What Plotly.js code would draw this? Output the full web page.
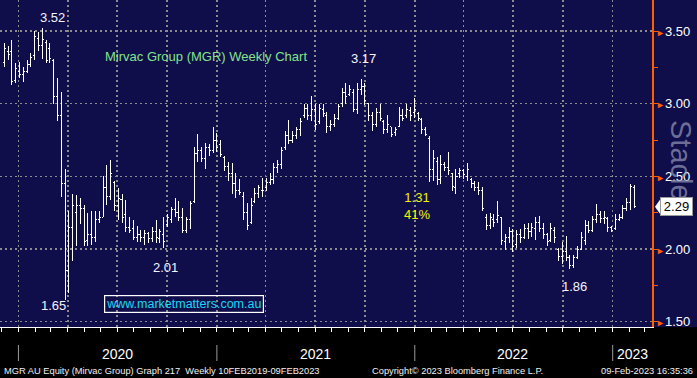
<!DOCTYPE html>
<html><head><meta charset="utf-8">
<script src="https://cdn.plot.ly/plotly-3.0.1.min.js"></script>
<style>html,body{margin:0;padding:0;background:#100e4a;}#chart{width:697px;height:378px;}
.trace.ohlc path{shape-rendering:crispEdges;}</style>
</head><body><div id="chart"></div>
<script>
// Weekly bars (week ending Friday)
const dates = [
'2019-12-06','2019-12-13','2019-12-20','2019-12-27',
'2020-01-03','2020-01-10','2020-01-17','2020-01-24','2020-01-31','2020-02-07','2020-02-14','2020-02-21','2020-02-28',
'2020-03-06','2020-03-13','2020-03-20','2020-03-27','2020-04-03','2020-04-10','2020-04-17','2020-04-24',
'2020-05-01','2020-05-08','2020-05-15','2020-05-22','2020-05-29','2020-06-05','2020-06-12','2020-06-19','2020-06-26',
'2020-07-03','2020-07-10','2020-07-17','2020-07-24','2020-07-31','2020-08-07','2020-08-14','2020-08-21','2020-08-28',
'2020-09-04','2020-09-11','2020-09-18','2020-09-25','2020-10-02','2020-10-09','2020-10-16','2020-10-23','2020-10-30',
'2020-11-06','2020-11-13','2020-11-20','2020-11-27','2020-12-04','2020-12-11','2020-12-18','2020-12-25',
'2021-01-01','2021-01-08','2021-01-15','2021-01-22','2021-01-29','2021-02-05','2021-02-12','2021-02-19','2021-02-26',
'2021-03-05','2021-03-12','2021-03-19','2021-03-26','2021-04-02','2021-04-09','2021-04-16','2021-04-23','2021-04-30',
'2021-05-07','2021-05-14','2021-05-21','2021-05-28','2021-06-04','2021-06-11','2021-06-18','2021-06-25',
'2021-07-02','2021-07-09','2021-07-16','2021-07-23','2021-07-30','2021-08-06','2021-08-13','2021-08-20','2021-08-27',
'2021-09-03','2021-09-10','2021-09-17','2021-09-24','2021-10-01','2021-10-08','2021-10-15','2021-10-22','2021-10-29',
'2021-11-05','2021-11-12','2021-11-19','2021-11-26','2021-12-03','2021-12-10','2021-12-17','2021-12-24','2021-12-31',
'2022-01-07','2022-01-14','2022-01-21','2022-01-28','2022-02-04','2022-02-11','2022-02-18','2022-02-25',
'2022-03-04','2022-03-11','2022-03-18','2022-03-25','2022-04-01','2022-04-08','2022-04-15','2022-04-22','2022-04-29',
'2022-05-06','2022-05-13','2022-05-20','2022-05-27','2022-06-03','2022-06-10','2022-06-17','2022-06-24',
'2022-07-01','2022-07-08','2022-07-15','2022-07-22','2022-07-29','2022-08-05','2022-08-12','2022-08-19','2022-08-26',
'2022-09-02','2022-09-09','2022-09-16','2022-09-23','2022-09-30','2022-10-07','2022-10-14','2022-10-21','2022-10-28',
'2022-11-04','2022-11-11','2022-11-18','2022-11-25','2022-12-02','2022-12-09','2022-12-16','2022-12-23','2022-12-30',
'2023-01-06','2023-01-13','2023-01-20','2023-01-27','2023-02-03','2023-02-10'];

const open = [
3.28,3.36,3.36,3.16,3.22,3.20,3.22,3.27,3.33,3.45,
3.40,3.42,3.38,3.30,3.05,2.92,2.45,1.85,2.15,2.25,
2.30,2.28,2.06,2.10,2.08,2.20,2.22,2.42,2.36,2.46,
2.30,2.34,2.24,2.15,2.14,2.08,2.10,2.08,2.11,2.07,
2.12,2.07,2.10,2.17,2.20,2.27,2.25,2.22,2.13,2.20,
2.33,2.66,2.68,2.62,2.70,2.68,2.75,2.72,2.63,2.57,
2.52,2.45,2.40,2.36,2.25,2.18,2.33,2.38,2.40,2.42,
2.46,2.48,2.56,2.58,2.70,2.78,2.75,2.78,2.82,2.92,
2.97,2.92,2.96,2.88,2.96,2.92,2.84,2.86,2.90,3.00,
3.08,3.06,3.08,2.96,3.10,3.12,3.00,2.92,2.86,2.94,
2.88,2.82,2.84,2.80,2.84,2.92,2.92,2.95,2.94,2.93,
2.89,2.82,2.76,2.55,2.60,2.48,2.58,2.56,2.52,2.42,
2.52,2.54,2.50,2.48,2.45,2.42,2.40,2.22,2.16,2.20,
2.20,2.22,2.05,2.08,2.12,2.03,2.10,2.08,2.14,2.12,
2.14,2.18,2.14,2.10,2.06,2.13,2.00,1.95,1.98,1.94,
1.89,1.94,2.00,2.06,2.16,2.13,2.20,2.24,2.21,2.21,
2.15,2.14,2.20,2.22,2.28,2.32,2.42];

const high = [
3.42,3.40,3.44,3.28,3.29,3.25,3.30,3.35,3.50,3.49,
3.52,3.44,3.42,3.31,3.18,3.08,2.55,2.26,2.38,2.37,
2.35,2.30,2.25,2.26,2.26,2.26,2.50,2.58,2.61,2.47,
2.42,2.38,2.34,2.22,2.20,2.16,2.13,2.13,2.12,2.15,
2.20,2.14,2.22,2.24,2.29,2.35,2.33,2.28,2.22,2.33,
2.70,2.79,2.70,2.73,2.72,2.84,2.80,2.75,2.64,2.60,
2.59,2.52,2.48,2.39,2.32,2.35,2.42,2.44,2.49,2.49,
2.52,2.59,2.61,2.70,2.81,2.89,2.81,2.84,2.90,3.00,
3.00,3.05,3.00,3.00,3.00,2.94,2.89,2.93,3.00,3.11,
3.14,3.13,3.10,3.14,3.17,3.14,3.00,2.94,2.97,3.00,
2.89,2.92,2.84,2.84,2.98,2.96,3.00,2.98,3.04,2.94,
2.90,2.84,2.78,2.68,2.63,2.65,2.60,2.67,2.52,2.55,
2.56,2.55,2.59,2.49,2.47,2.46,2.43,2.24,2.25,2.24,
2.33,2.22,2.10,2.15,2.14,2.13,2.14,2.17,2.18,2.18,
2.22,2.23,2.18,2.11,2.18,2.15,2.01,2.05,2.09,1.96,
1.96,2.02,2.12,2.20,2.19,2.23,2.31,2.26,2.26,2.22,
2.16,2.24,2.24,2.30,2.35,2.45,2.44];

const low = [
3.25,3.30,3.13,3.14,3.18,3.15,3.21,3.25,3.30,3.36,
3.31,3.28,3.28,3.00,2.88,2.36,1.65,1.70,1.92,2.02,
2.17,2.02,2.02,2.03,2.05,2.18,2.22,2.30,2.34,2.26,
2.20,2.18,2.12,2.11,2.06,2.05,2.05,2.03,2.04,2.05,
2.04,2.04,2.01,2.15,2.18,2.22,2.19,2.11,2.11,2.14,
2.32,2.60,2.60,2.55,2.64,2.66,2.67,2.63,2.54,2.47,
2.38,2.35,2.37,2.20,2.13,2.17,2.32,2.35,2.36,2.40,
2.44,2.45,2.52,2.55,2.68,2.72,2.73,2.76,2.78,2.90,
2.89,2.88,2.82,2.86,2.91,2.80,2.81,2.84,2.89,2.98,
3.00,3.05,2.94,2.93,3.06,2.99,2.88,2.81,2.84,2.88,
2.79,2.80,2.77,2.78,2.84,2.88,2.90,2.88,2.90,2.88,
2.79,2.78,2.46,2.47,2.44,2.45,2.54,2.51,2.40,2.38,
2.49,2.48,2.47,2.42,2.40,2.37,2.26,2.13,2.14,2.15,
2.18,2.03,1.99,2.04,1.98,2.01,2.04,2.07,2.07,2.08,
2.06,2.12,2.07,2.02,2.05,2.04,1.92,1.90,1.92,1.86,
1.87,1.93,1.99,2.03,2.11,2.12,2.18,2.18,2.17,2.12,
2.12,2.13,2.19,2.21,2.26,2.27,2.28];

const close = [
3.38,3.34,3.15,3.24,3.20,3.22,3.27,3.32,3.46,3.40,
3.44,3.30,3.31,3.05,2.92,2.45,1.85,2.15,2.30,2.30,
2.28,2.05,2.10,2.08,2.20,2.22,2.42,2.36,2.52,2.30,
2.35,2.22,2.15,2.13,2.08,2.10,2.08,2.11,2.07,2.12,
2.08,2.12,2.05,2.22,2.27,2.25,2.22,2.13,2.20,2.31,
2.66,2.68,2.62,2.70,2.68,2.75,2.70,2.65,2.57,2.52,
2.45,2.40,2.39,2.25,2.16,2.30,2.38,2.42,2.40,2.46,
2.48,2.56,2.58,2.68,2.78,2.75,2.78,2.82,2.88,2.97,
2.92,2.96,2.86,2.97,2.93,2.84,2.86,2.90,2.98,3.08,
3.05,3.10,2.96,3.10,3.12,3.02,2.92,2.86,2.94,2.90,
2.82,2.86,2.79,2.82,2.92,2.90,2.96,2.92,2.96,2.90,
2.82,2.79,2.55,2.62,2.48,2.58,2.56,2.54,2.43,2.50,
2.54,2.51,2.55,2.45,2.42,2.40,2.28,2.16,2.22,2.18,
2.23,2.06,2.08,2.12,2.02,2.10,2.08,2.14,2.12,2.15,
2.18,2.14,2.10,2.05,2.14,2.08,1.95,1.98,1.94,1.89,
1.94,2.00,2.08,2.16,2.13,2.20,2.24,2.21,2.22,2.15,
2.13,2.20,2.22,2.28,2.32,2.43,2.29];

const yTickVals = [1.5, 2.0, 2.5, 3.0, 3.5];
const yTickLabels = ['1.50', '2.00', '2.50', '3.00', '3.50'];
const gridDates = ['2020-01-01','2020-04-01','2020-07-01','2020-10-01','2021-01-01','2021-04-01','2021-07-01','2021-10-01',
                   '2022-01-01','2022-04-01','2022-07-01','2022-10-01','2023-01-01'];
const yearStarts = ['2020-01-01','2021-01-01','2022-01-01','2023-01-01'];
const yearLabels = ['2020','2021','2022','2023'];
const yearLabelDates = ['2020-07-01','2021-07-01','2022-07-01','2023-02-07'];
// extreme callouts: label text, bar index, 'high' or 'low'
const calloutText = ['3.52','1.65','2.01','3.17','1.86'];
const calloutIdx  = [10, 16, 42, 94, 149];
const calloutSide = ['high','low','low','high','low'];
const chartTitle = 'Mirvac Group (MGR) Weekly Chart';
const moveText = ['1.31', '41%'];
const website = 'www.marketmatters.com.au';
const footerLeft = 'MGR AU Equity (Mirvac Group) Graph 217  Weekly 10FEB2019-09FEB2023';
const footerMid = 'Copyright\u00a9 2023 Bloomberg Finance L.P.';
const footerRight = '09-Feb-2023 16:35:36';

// ---- layout helpers (pixel -> paper) ----
const W = 697, H = 378, PR = 45, PB = 51;
const plotW = W - PR, plotH = H - PB;
const px = x => x / plotW;
const py = y => (plotH - y) / plotH;
const FONT = 'Liberation Sans, Arial, sans-serif';
const ORANGE = '#ff5f00';
const GRID = '#8c8c8c';

const ann = [];
const txt = (o) => ann.push(Object.assign({showarrow:false, xanchor:'center', yanchor:'middle'}, o));
txt({xref:'paper', yref:'paper', x:px(205.5), y:py(57), text:chartTitle,
  font:{family:FONT, size:13, color:'#84e38a'}});
txt({xref:'paper', yref:'paper', x:px(417), y:py(206), text:moveText.join('<br>'),
  font:{family:FONT, size:13, color:'#f2f200'}});
txt({xref:'paper', yref:'paper', x:px(184.5), y:py(303.5), text:website,
  font:{family:FONT, size:12.5, color:'#1ad6f2'}, bordercolor:'#ffffff', borderwidth:1.2, borderpad:1});
const cShift = [[10,11],[-12,-6],[2,-20],[2,20],[5,-17]];
calloutText.forEach((t, k) => {
  const i = calloutIdx[k];
  txt({xref:'x', yref:'y', x:dates[i], y:(calloutSide[k]==='high'?high[i]:low[i]), text:t,
    xshift:cShift[k][0], yshift:cShift[k][1], font:{family:FONT, size:13, color:'#f4f4ff'}});
});
yearLabels.forEach((t, k) => {
  txt({xref:'x', yref:'paper', x:yearLabelDates[k], y:py(354), text:t,
    font:{family:FONT, size:14, color:'#ffffff'}});
});
txt({xref:'paper', yref:'paper', x:px(2), y:py(371), xanchor:'left', text:footerLeft,
  font:{family:FONT, size:9.3, color:'#f0f0f0'}});
txt({xref:'paper', yref:'paper', x:px(370), y:py(371), xanchor:'left', text:footerMid,
  font:{family:FONT, size:9.3, color:'#f0f0f0'}});
txt({xref:'paper', yref:'paper', x:px(695), y:py(371), xanchor:'right', text:footerRight,
  font:{family:FONT, size:9.3, color:'#f0f0f0'}});
// watermark
txt({xref:'paper', yref:'paper', x:px(681), y:py(160), text:'Stacle', textangle:90,
  font:{family:FONT, size:29, color:'rgba(150,155,185,0.7)'}});
// last price tag
const last = close[close.length - 1];
txt({xref:'paper', yref:'y', x:px(660), y:last, xanchor:'left', text:last.toFixed(2),
  bgcolor:'#ffffff', bordercolor:'#9a9a9a', borderwidth:1, borderpad:1, width:29,
  font:{family:FONT, size:13, color:'#000000'}});

const shapes = [];
// black footer band
shapes.push({type:'rect', xref:'paper', yref:'paper', x0:-0.01, x1:1.2, y0:-0.3, y1:0, fillcolor:'#000000', line:{width:0}, layer:'below'});
// year separators
yearStarts.forEach(d => shapes.push({type:'line', xref:'x', yref:'paper', x0:d, x1:d, y0:py(361), y1:py(345),
  line:{color:'#9a9a9a', width:1}}));
// tag pointer
const halfH = 8.5 / 145.35;
shapes.push({type:'path', xref:'paper', yref:'y',
  path:`M ${px(655)},${last} L ${px(661)},${last+halfH} L ${px(661)},${last-halfH} Z`,
  fillcolor:'#ffffff', line:{width:0}});

const trace = {
  type:'ohlc', x:dates, open:open, high:high, low:low, close:close,
  increasing:{line:{color:'#ffffff', width:1}}, decreasing:{line:{color:'#ffffff', width:1}},
  tickwidth:0.4, hoverinfo:'none', showlegend:false
};

const layout = {
  width:W, height:H, margin:{l:0, r:PR, t:0, b:PB, pad:0},
  paper_bgcolor:'#100e4a', plot_bgcolor:'#100e4a', showlegend:false,
  xaxis:{type:'date', range:['2019-11-28','2023-03-14 12:00'], tickmode:'array', tickvals:gridDates,
    ticktext:gridDates.map(() => ''), ticks:'outside', ticklen:4, tickcolor:'#ffffff', tickwidth:1,
    showgrid:true, gridcolor:GRID, gridwidth:1.5, griddash:'2px,3px', zeroline:false,
    showline:true, linecolor:'#ffffff', linewidth:1,
    minor:{tick0:'2020-01-01', dtick:'M1', ticks:'outside', ticklen:4, tickcolor:'#ffffff', tickwidth:1, showgrid:false},
    rangeslider:{visible:false}, automargin:false, fixedrange:true},
  yaxis:{side:'right', range:[1.4635, 3.7133], tickmode:'array', tickvals:yTickVals,
    ticktext:yTickLabels.map(t => '<span style="color:' + ORANGE + ';font-size:9px">\u25BA</span>' + t),
    ticks:'', showgrid:true, gridcolor:GRID, gridwidth:1.5, griddash:'2px,3px', zeroline:false,
    showline:true, linecolor:ORANGE, linewidth:1.5,
    tickfont:{family:FONT, size:13, color:'#ffffff'},
    minor:{tickmode:'linear', tick0:1.5, dtick:0.25, ticks:'outside', ticklen:4, tickcolor:ORANGE, tickwidth:1, showgrid:false},
    automargin:false, fixedrange:true},
  annotations:ann, shapes:shapes
};

Plotly.newPlot('chart', [trace], layout, {displayModeBar:false, staticPlot:true});
</script></body></html>
